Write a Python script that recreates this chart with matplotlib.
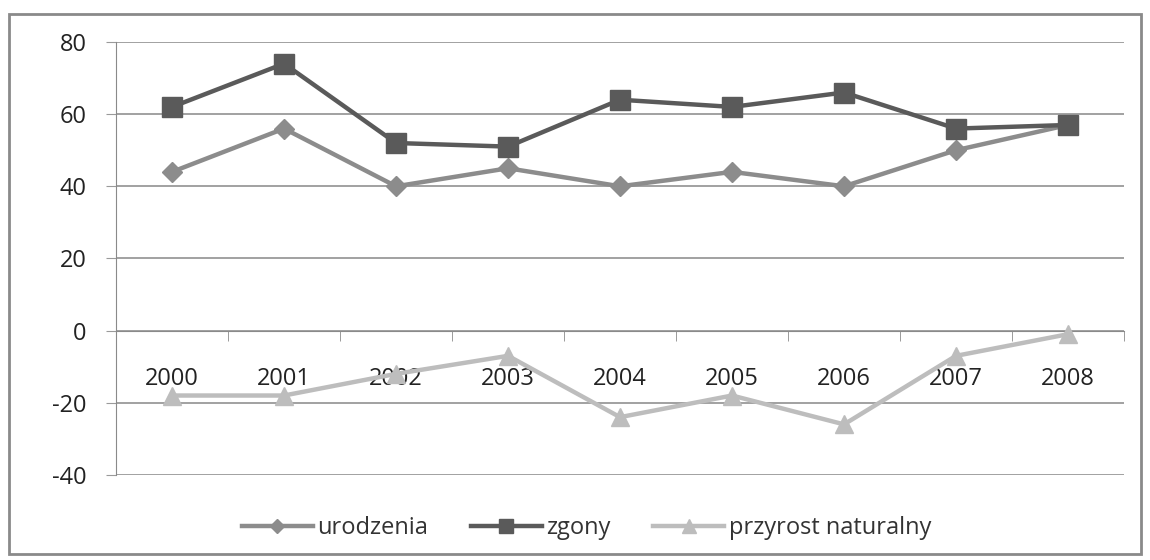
import matplotlib.pyplot as plt
from matplotlib.patches import Rectangle
from matplotlib.ticker import FixedLocator

lata = ['2000', '2001', '2002', '2003', '2004', '2005', '2006', '2007', '2008']
urodzenia = [44, 56, 40, 45, 40, 44, 40, 50, 57]
zgony = [62, 74, 52, 51, 64, 62, 66, 56, 57]
przyrost = [-18, -18, -12, -7, -24, -18, -26, -7, -1]

plt.rcParams['font.family'] = ['Open Sans', 'DejaVu Sans']
plt.rcParams['axes.unicode_minus'] = False

fig = plt.figure(figsize=(11.5, 5.6), dpi=100)
ax = fig.add_axes([0.1009, 0.152, 0.8765, 0.773])

x = list(range(len(lata)))
ax.plot(x, urodzenia, color='#8c8c8c', lw=3.2, marker='D', ms=10, label='urodzenia', zorder=3)
ax.plot(x, zgony, color='#5a5a5a', lw=3.2, marker='s', ms=14, label='zgony', zorder=3)
ax.plot(x, przyrost, color='#bdbdbd', lw=3.2, marker='^', ms=13, label='przyrost naturalny', zorder=3)

ax.set_xlim(-0.5, len(lata) - 0.5)
ax.set_ylim(-40, 80)
ax.set_yticks([-40, -20, 0, 20, 40, 60, 80])
ax.yaxis.grid(True, color='#9a9a9a', lw=1.3)
ax.set_axisbelow(True)

# os x w zerze, znaczniki miedzy kategoriami
ax.spines['bottom'].set_position(('data', 0))
ax.spines['bottom'].set_color('#8a8a8a')
ax.spines['left'].set_color('#8a8a8a')
ax.spines['top'].set_visible(False)
ax.spines['right'].set_visible(False)
ax.set_xticks(x)
ax.set_xticklabels(lata)
ax.xaxis.set_minor_locator(FixedLocator([i - 0.5 for i in range(len(lata) + 1)]))
ax.tick_params(axis='x', which='major', length=0, pad=26, labelsize=17, labelcolor='#222222')
ax.tick_params(axis='x', which='minor', length=7, color='#8a8a8a', direction='out')
ax.tick_params(axis='y', length=7, color='#9a9a9a', labelsize=17, labelcolor='#222222', pad=14)

fig.legend(loc='center', bbox_to_anchor=(0.51, 0.057), ncol=3, frameon=False,
           fontsize=17, handlelength=3, handletextpad=0.2, columnspacing=1.8,
           markerscale=0.75, labelcolor='#333333')

fig.patches.append(Rectangle((0.008, 0.01), 0.984, 0.965, transform=fig.transFigure,
                             fill=False, edgecolor='#8a8a8a', lw=2))

fig.savefig('out.png', dpi=100)
